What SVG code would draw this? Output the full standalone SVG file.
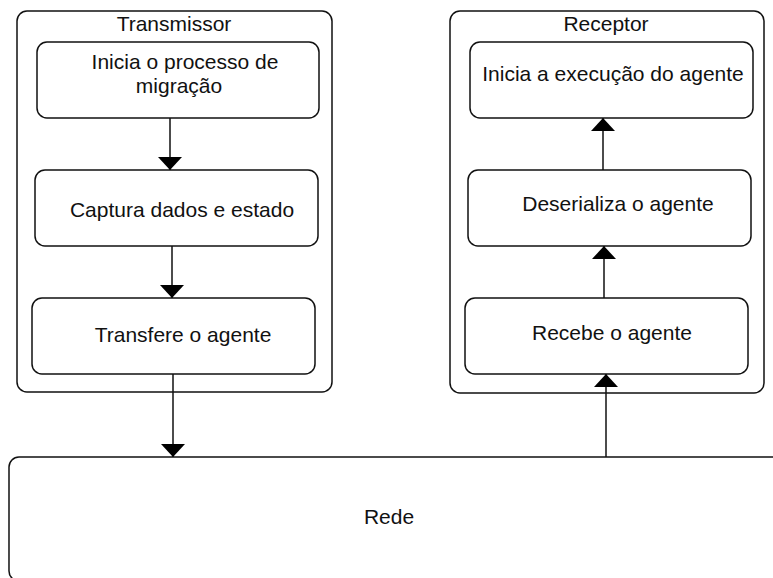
<svg xmlns="http://www.w3.org/2000/svg" width="773" height="578" viewBox="0 0 773 578">
<style>
.box{fill:#fff;stroke:#111;stroke-width:1.5}
.txt{font-family:"Liberation Sans",Arial,sans-serif;font-size:21px;fill:#111;text-anchor:middle}
.conn{stroke:#111;stroke-width:1.5;fill:none}
</style>
<defs>
<marker id="ah" viewBox="0 0 13 24" refX="13" refY="12" markerWidth="13" markerHeight="24" markerUnits="userSpaceOnUse" orient="auto">
<path d="M0,0 L13,12 L0,24 Z" fill="#000"/>
</marker>
</defs>
<rect width="773" height="578" fill="#fff"/>
<g id="rede">
<rect class="box" x="9" y="457" width="820" height="124" rx="10"/>
<text class="txt" x="389" y="524">Rede</text>
</g>
<g id="transmissor">
<rect class="box" x="17" y="11" width="315" height="381" rx="10"/>
<text class="txt" x="174" y="31">Transmissor</text>
</g>
<g id="receptor">
<rect class="box" x="450" y="11" width="314" height="382" rx="10"/>
<text class="txt" x="606" y="31">Receptor</text>
</g>
<g id="inicia-migracao">
<rect class="box" x="37" y="42" width="282" height="76" rx="10"/>
<text class="txt" x="185" y="69">Inicia o processo de</text>
<text class="txt" x="179" y="93">migração</text>
</g>
<g id="captura">
<rect class="box" x="35" y="170" width="283" height="76" rx="10"/>
<text class="txt" x="182" y="217">Captura dados e estado</text>
</g>
<g id="transfere">
<rect class="box" x="32" y="298" width="283" height="76" rx="10"/>
<text class="txt" x="183" y="342">Transfere o agente</text>
</g>
<g id="inicia-execucao">
<rect class="box" x="470" y="42" width="283" height="76" rx="10"/>
<text class="txt" x="613" y="81">Inicia a execução do agente</text>
</g>
<g id="deserializa">
<rect class="box" x="468" y="170" width="283" height="76" rx="10"/>
<text class="txt" x="618" y="211">Deserializa o agente</text>
</g>
<g id="recebe">
<rect class="box" x="465" y="298" width="283" height="76" rx="10"/>
<text class="txt" x="612" y="340">Recebe o agente</text>
</g>
<g id="connectors">
<line class="conn" x1="170" y1="118" x2="170" y2="170" marker-end="url(#ah)"/>
<line class="conn" x1="172" y1="246" x2="172" y2="298" marker-end="url(#ah)"/>
<line class="conn" x1="173" y1="374" x2="173" y2="457" marker-end="url(#ah)"/>
<line class="conn" x1="603" y1="170" x2="603" y2="118" marker-end="url(#ah)"/>
<line class="conn" x1="604" y1="298" x2="604" y2="246" marker-end="url(#ah)"/>
<line class="conn" x1="606" y1="457" x2="606" y2="374" marker-end="url(#ah)"/>
</g>
</svg>
